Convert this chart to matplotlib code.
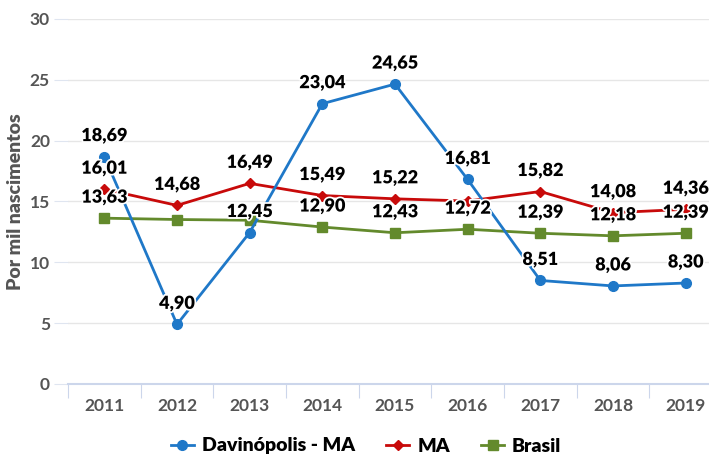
import matplotlib.pyplot as plt
import matplotlib.patheffects as pe
from matplotlib.lines import Line2D

anos = ['2011', '2012', '2013', '2014', '2015', '2016', '2017', '2018', '2019']
davinopolis = [18.69, 4.90, 12.45, 23.04, 24.65, 16.81, 8.51, 8.06, 8.30]
ma = [16.01, 14.68, 16.49, 15.49, 15.22, 15.04, 15.82, 14.08, 14.36]
brasil = [13.63, 13.52, 13.46, 12.90, 12.43, 12.72, 12.39, 12.18, 12.39]
# rótulos escondidos no original (sobreposição)
mostra_ma = [True, True, True, True, True, False, True, True, True]
mostra_brasil = [True, False, False, True, True, True, True, True, True]

plt.rcParams['font.family'] = ['Lato', 'DejaVu Sans']

fig = plt.figure(figsize=(7.09, 4.57), dpi=100)
ax = fig.add_axes([68 / 709, 73 / 457, 654 / 709, 365 / 457])

x = list(range(len(anos)))
cor_azul = '#1f78c8'
cor_verm = '#c80a0a'
cor_verde = '#638a2c'

ax.plot(x, brasil, color=cor_verde, lw=2, marker='s', ms=7, zorder=3)
ax.plot(x, ma, color=cor_verm, lw=2, marker='D', ms=5, zorder=4)
ax.plot(x, davinopolis, color=cor_azul, lw=2, marker='o', ms=7, zorder=5)

contorno = [pe.withStroke(linewidth=2.5, foreground='white')]

def rotulos(vals, mostrar=None):
    for i, v in enumerate(vals):
        if mostrar is not None and not mostrar[i]:
            continue
        ax.annotate(f'{v:.2f}'.replace('.', ','), (i, v), xytext=(0, 9),
                    textcoords='offset points', ha='center', va='bottom',
                    fontsize=13, fontweight='heavy', color='black',
                    path_effects=contorno, zorder=6)

rotulos(brasil, mostra_brasil)
rotulos(ma, mostra_ma)
rotulos(davinopolis)

ax.set_xlim(-0.5, len(anos) - 0.5)
ax.set_ylim(0, 30)
ax.set_yticks([0, 5, 10, 15, 20, 25, 30])
ax.set_xticks([i - 0.5 for i in range(len(anos) + 1)], minor=False)
ax.set_xticklabels([])
ax.set_xticks(x, minor=True)
ax.set_xticklabels(anos, minor=True)
ax.tick_params(axis='x', which='minor', length=0, pad=10, labelsize=12.5,
               labelcolor='#555555')
ax.tick_params(axis='x', which='major', length=10, color='#ccd6eb')
ax.tick_params(axis='y', length=10, color='#dfe5f0', labelsize=12.5,
               labelcolor='#555555', pad=3)
for lab in ax.get_xticklabels(minor=True) + ax.get_yticklabels():
    lab.set_fontweight('bold')

ax.grid(axis='y', color='#e6e6e6', lw=1, zorder=0)
for s in ['top', 'right', 'left']:
    ax.spines[s].set_visible(False)
ax.spines['bottom'].set_color('#ccd6eb')
ax.spines['bottom'].set_linewidth(1.5)

ax.set_ylabel('Por mil nascimentos', fontsize=14, fontweight='heavy',
              color='#555555')
ax.yaxis.set_label_coords(-44 / 654, 0.5)

handles = [
    Line2D([], [], color=cor_azul, lw=2, marker='o', ms=7),
    Line2D([], [], color=cor_verm, lw=2, marker='D', ms=5),
    Line2D([], [], color=cor_verde, lw=2, marker='s', ms=7),
]
fig.legend(handles, ['Davinópolis - MA', 'MA', 'Brasil'], loc='center',
           bbox_to_anchor=(366 / 709, 1 - 446 / 457), ncol=3, frameon=False,
           handlelength=1.2, handletextpad=0.4, columnspacing=1.6,
           prop={'weight': 'heavy', 'size': 14})

fig.savefig('out.png', dpi=100)
